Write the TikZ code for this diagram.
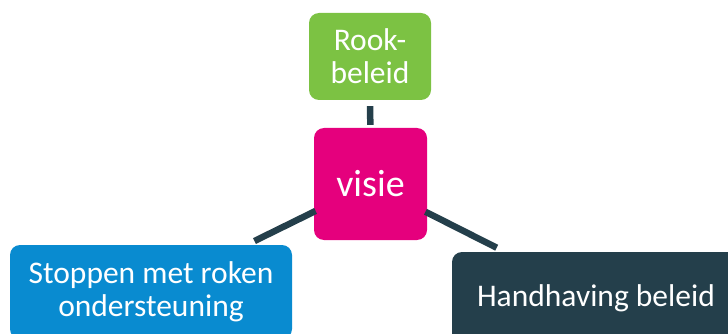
\documentclass[tikz,border=0pt]{standalone}
\usepackage{fontspec}
\setmainfont{Carlito}
\definecolor{cgreen}{HTML}{7CC243}
\definecolor{cpink}{HTML}{E5007D}
\definecolor{cblue}{HTML}{098BD0}
\definecolor{cdark}{HTML}{243F4B}
\begin{document}
\begin{tikzpicture}[x=1pt,y=-1pt,
  box/.style={rounded corners=10pt, inner sep=0pt, text=white, align=center,
    font=\fontsize{31.5}{33}\selectfont},
  link/.style={draw=cdark, line width=6.5pt}]
\useasboundingbox (0,0) rectangle (728,334);
\clip (0,0) rectangle (728,334);
\node[box, fill=cgreen, minimum width=122pt, minimum height=87pt] (rook) at (370,56.5) {Rook-\\beleid};
\node[box, fill=cpink, minimum width=113pt, minimum height=112pt, font=\fontsize{38}{40}\selectfont] (visie) at (370.5,184) {visie};
\node[box, fill=cblue, minimum width=282pt, minimum height=94pt] (stop) at (151,292) {Stoppen met roken\\ondersteuning};
\node[box, fill=cdark, minimum width=288pt, minimum height=92pt] (hand) at (596,298) {Handhaving beleid};
\draw[link, shorten <=6pt, shorten >=3pt] (rook) -- (visie);
\draw[link, shorten <=-2pt, shorten >=8.5pt] (visie) -- (stop);
\draw[link, shorten <=-2pt, shorten >=9pt] (visie) -- (hand);
\end{tikzpicture}
\end{document}
